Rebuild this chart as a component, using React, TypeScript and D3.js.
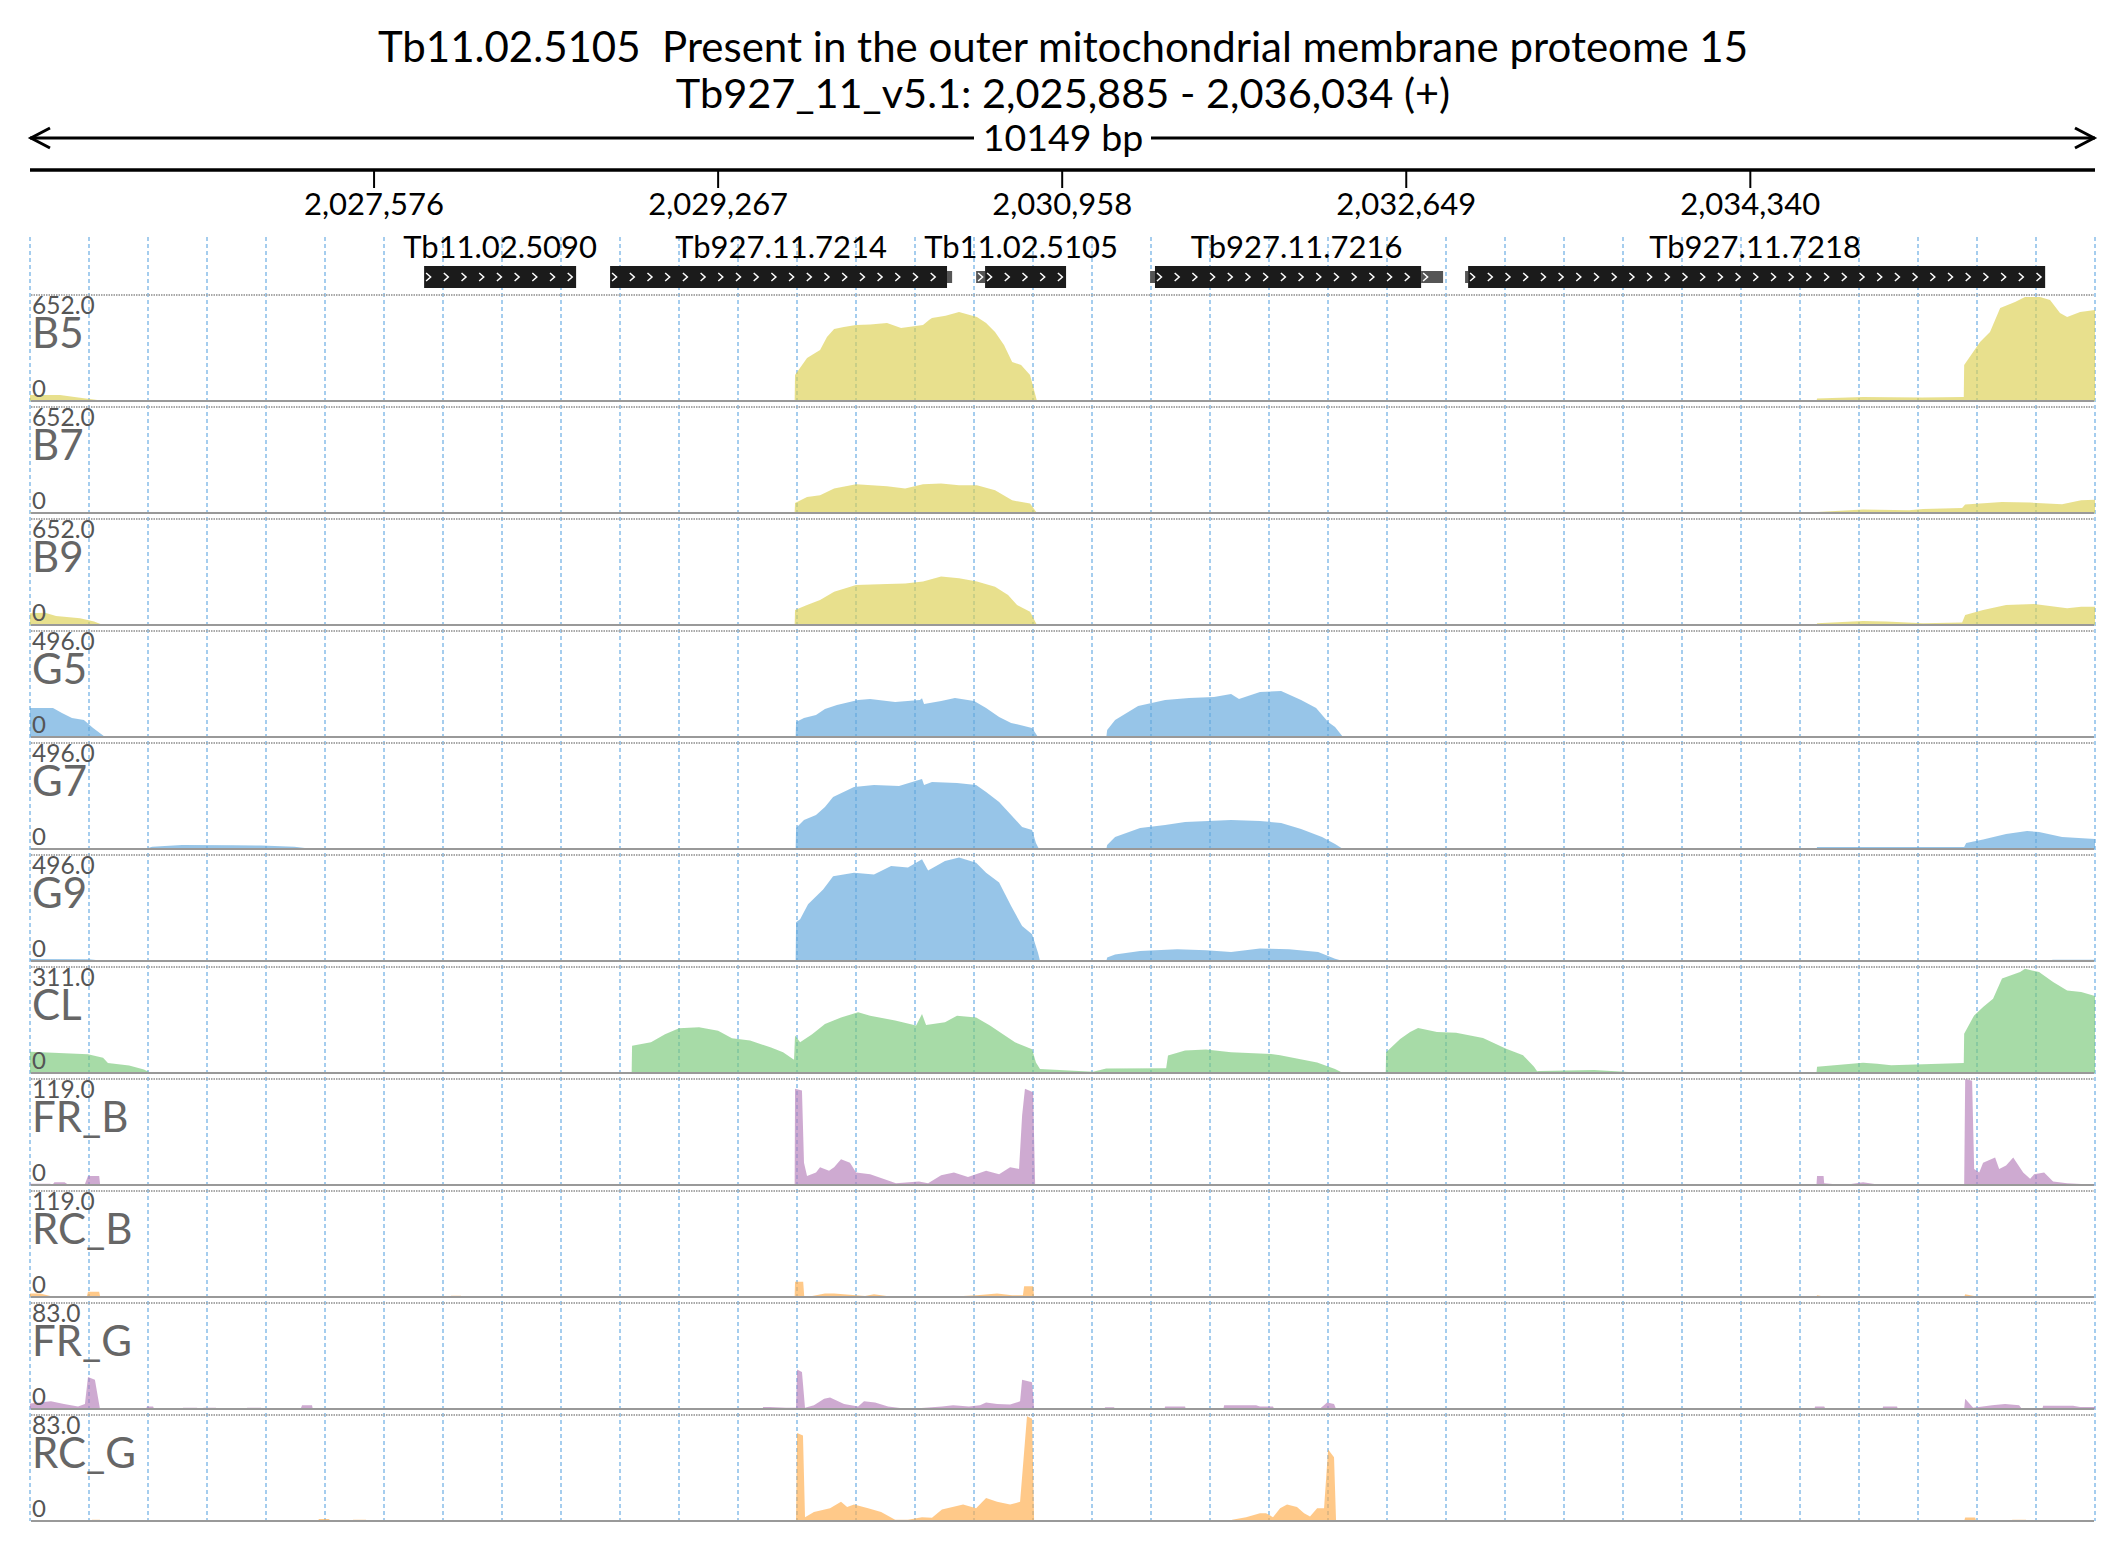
import { useMemo } from "react";
import * as d3 from "d3";

// region shown
const geneId = "Tb11.02.5105";
const geneDesc = "Present in the outer mitochondrial membrane proteome 15";
const chrom = "Tb927_11_v5.1";
const regionStart = 2025885;
const regionEnd = 2036034;
const strand = "+";

const axisTicks = [2027576, 2029267, 2030958, 2032649, 2034340];

// gene models (offsets from regionStart)
const geneNames = ["Tb11.02.5090", "Tb927.11.7214", "Tb11.02.5105", "Tb927.11.7216", "Tb927.11.7218"];
const geneCds: [number, number][] = [[1937, 2684], [2851, 4507], [4694, 5092], [5529, 6837], [7068, 9904]];
const geneUtrs: [number, number][][] = [[], [[4507, 4532]], [[4650, 4694]], [[5505, 5529], [6837, 6945]], [[7053, 7068]]];

const trackNames = ["B5", "B7", "B9", "G5", "G7", "G9", "CL", "FR_B", "RC_B", "FR_G", "RC_G"];
const trackMax = [652, 652, 652, 496, 496, 496, 311, 119, 119, 83, 83];
const trackGroup = ["B", "B", "B", "G", "G", "G", "C", "F", "R", "F", "R"];

// coverage, [offset bp, reads]
const covB5 = [[0, 37], [147, 37], [246, 20], [369, 0], [3758, 0], [3760, 160], [3819, 264], [3883, 314], [3917, 394], [3952, 443], [4000, 455], [4060, 467], [4130, 470], [4212, 480], [4281, 449], [4389, 467], [4420, 500], [4433, 510], [4500, 525], [4566, 548], [4654, 517], [4699, 480], [4743, 424], [4787, 344], [4827, 240], [4871, 221], [4915, 160], [4949, 0], [8780, 0], [8783, 15], [9009, 25], [9300, 22], [9504, 25], [9506, 221], [9584, 363], [9633, 424], [9683, 572], [9756, 609], [9805, 640], [9879, 640], [9928, 621], [9977, 541], [10012, 517], [10076, 548], [10149, 560]];
const covB7 = [[0, 6], [290, 6], [369, 0], [3758, 0], [3760, 62], [3819, 98], [3883, 109], [3952, 150], [4060, 177], [4212, 164], [4301, 150], [4389, 177], [4478, 181], [4566, 170], [4654, 170], [4743, 140], [4827, 78], [4915, 58], [4949, 0], [8780, 0], [8783, 6], [9009, 21], [9235, 17], [9304, 25], [9496, 31], [9511, 52], [9692, 68], [9830, 64], [9987, 54], [10081, 78], [10149, 82]];
const covB9 = [[0, 72], [74, 76], [128, 55], [246, 41], [315, 21], [359, 0], [3758, 0], [3760, 92], [3819, 123], [3883, 154], [3952, 205], [4060, 246], [4212, 252], [4301, 256], [4389, 267], [4478, 298], [4566, 287], [4654, 267], [4743, 236], [4807, 185], [4851, 123], [4915, 82], [4949, 0], [8780, 0], [8783, 10], [9009, 25], [9122, 21], [9304, 10], [9496, 15], [9511, 62], [9599, 92], [9712, 123], [9850, 129], [10012, 103], [10081, 113], [10149, 113]];
const covG5 = [[0, 136], [113, 136], [157, 112], [206, 89], [265, 80], [310, 42], [369, 0], [3763, 0], [3765, 70], [3804, 89], [3863, 103], [3907, 131], [3966, 150], [4070, 173], [4129, 178], [4252, 164], [4374, 173], [4384, 181], [4394, 154], [4478, 168], [4546, 182], [4640, 168], [4699, 136], [4763, 94], [4822, 66], [4925, 42], [4954, 0], [5290, 0], [5294, 33], [5333, 80], [5446, 145], [5579, 173], [5697, 182], [5819, 187], [5903, 201], [5942, 178], [6045, 211], [6149, 215], [6247, 173], [6321, 136], [6380, 70], [6414, 47], [6453, 0], [10149, 0]];
const covG7 = [[0, 5], [290, 4], [369, 0], [565, 0], [600, 10], [747, 19], [1000, 17], [1135, 16], [1300, 10], [1391, 0], [3763, 0], [3765, 98], [3804, 136], [3863, 159], [3907, 197], [3947, 243], [4050, 290], [4148, 300], [4271, 295], [4384, 328], [4394, 300], [4433, 313], [4556, 309], [4650, 300], [4699, 267], [4763, 220], [4822, 159], [4876, 103], [4925, 89], [4944, 28], [4959, 0], [5290, 0], [5294, 19], [5333, 56], [5456, 98], [5579, 112], [5677, 126], [5903, 136], [6045, 131], [6149, 122], [6247, 94], [6350, 56], [6414, 23], [6453, 0], [8780, 0], [8783, 9], [9506, 9], [9516, 28], [9599, 45], [9712, 70], [9815, 84], [9874, 80], [9987, 56], [10149, 47]];
const covG9 = [[0, 9], [290, 8], [369, 0], [3763, 0], [3765, 181], [3785, 195], [3824, 265], [3898, 335], [3947, 397], [4050, 413], [4148, 405], [4232, 445], [4315, 437], [4384, 476], [4414, 423], [4497, 468], [4566, 484], [4650, 460], [4699, 413], [4763, 367], [4822, 257], [4876, 164], [4925, 125], [4954, 39], [4964, 0], [5290, 0], [5294, 16], [5333, 31], [5456, 47], [5638, 55], [5780, 50], [5903, 42], [6045, 58], [6188, 55], [6331, 42], [6414, 11], [6453, 0], [9900, 0], [9943, 6], [10149, 6]];
const covCL = [[0, 62], [285, 55], [359, 45], [383, 29], [487, 22], [560, 10], [595, 0], [2250, 0], [2260, 3], [2900, 3], [2957, 0], [2959, 80], [3052, 90], [3121, 114], [3190, 131], [3288, 134], [3382, 124], [3450, 102], [3539, 95], [3642, 75], [3701, 61], [3755, 39], [3760, 110], [3785, 90], [3844, 114], [3907, 144], [3986, 163], [4070, 178], [4129, 168], [4252, 154], [4355, 139], [4384, 173], [4404, 141], [4497, 149], [4556, 168], [4650, 163], [4718, 139], [4782, 114], [4841, 90], [4925, 70], [4944, 31], [4964, 12], [5225, 4], [5289, 13], [5584, 14], [5593, 51], [5677, 66], [5780, 69], [5903, 61], [6100, 56], [6144, 52], [6326, 31], [6414, 12], [6453, 0], [6663, 0], [6665, 61], [6734, 100], [6783, 120], [6822, 132], [6915, 120], [7009, 118], [7141, 103], [7255, 71], [7338, 52], [7392, 18], [7407, 5], [7417, 6], [7687, 9], [7938, 0], [8780, 0], [8783, 18], [9009, 30], [9078, 27], [9147, 23], [9504, 29], [9506, 115], [9555, 169], [9599, 194], [9648, 218], [9692, 277], [9781, 296], [9805, 306], [9874, 296], [9943, 267], [10012, 242], [10081, 238], [10149, 226]];
const covFRB = [[0, 1.5], [100, 1.5], [110, 0], [120, 3], [170, 3], [190, 0], [270, 1], [285, 10], [340, 10], [345, 0], [3758, 0], [3760, 108], [3794, 106], [3804, 25], [3819, 10], [3863, 14], [3883, 20], [3927, 16], [3952, 20], [3986, 29], [4030, 25], [4060, 14], [4129, 12], [4193, 7], [4256, 2], [4369, 4], [4414, 2], [4478, 11], [4541, 14], [4610, 9], [4699, 16], [4763, 12], [4817, 20], [4861, 18], [4876, 78], [4890, 108], [4930, 104], [4940, 0], [8780, 0], [8783, 10], [8815, 10], [8818, 2], [8916, 0], [8950, 1], [9009, 3], [9098, 0], [9506, 0], [9511, 119], [9545, 117], [9555, 18], [9580, 14], [9599, 25], [9658, 31], [9678, 18], [9712, 22], [9747, 31], [9796, 14], [9830, 7], [9850, 12], [9899, 14], [9943, 4], [10012, 2], [10081, 1], [10149, 0.5]];
const covRCB = [[0, 4], [50, 4], [100, 1], [280, 1], [285, 6], [340, 6], [345, 0], [2065, 0], [2069, 1.5], [2118, 1.5], [2125, 0], [3758, 0], [3760, 17], [3800, 17], [3805, 1], [3844, 1], [3907, 4], [3952, 4], [4060, 2], [4104, 1], [4148, 3], [4227, 0.5], [4414, 1], [4541, 0.5], [4654, 2], [4753, 4], [4827, 2], [4880, 2], [4886, 12], [4930, 12], [4935, 0], [8780, 0], [8783, 2], [8827, 0], [9005, 0], [9009, 1], [9181, 1], [9190, 0], [9506, 0], [9511, 3], [9555, 1], [9668, 0], [9810, 0], [9815, 1], [9943, 1], [9950, 0]];
const covFRG = [[0, 4.4], [103, 6], [167, 4], [236, 2], [270, 4], [285, 25], [319, 23], [344, 0], [570, 0], [575, 2], [605, 2], [610, 0], [750, 0], [752, 1], [821, 1], [825, 0], [850, 0], [852, 1], [914, 1], [918, 0], [1065, 0], [1067, 1], [1135, 1], [1140, 0], [1330, 0], [1337, 3], [1386, 3], [1390, 0], [3600, 0], [3603, 1.6], [3637, 1.6], [3716, 1], [3765, 1], [3770, 31], [3794, 29], [3809, 1], [3853, 3], [3903, 8], [3932, 9], [4001, 4], [4070, 2], [4099, 6], [4153, 5], [4217, 2], [4315, 0], [4482, 2], [4537, 3], [4615, 2], [4669, 3], [4699, 5], [4753, 4], [4817, 3.5], [4866, 6], [4876, 23], [4925, 21], [4935, 0], [5280, 0], [5284, 1.3], [5328, 1.3], [5332, 0], [5575, 0], [5579, 2], [5677, 2], [5680, 0], [5865, 0], [5869, 3], [6026, 3], [6045, 2], [6109, 2], [6115, 0], [6340, 0], [6345, 1], [6375, 5], [6409, 4], [6419, 0], [8770, 0], [8773, 2], [8818, 2], [8825, 0], [9105, 0], [9107, 2], [9176, 2], [9180, 0], [9506, 0], [9511, 8], [9550, 1], [9643, 3], [9707, 4], [9776, 3], [9790, 0], [9890, 0], [9894, 2.5], [10041, 2.5], [10076, 1.5], [10149, 1.5]];
const covRCG = [[0, 0], [300, 0], [305, 1], [344, 1], [350, 0], [1415, 0], [1420, 1.5], [1470, 1.5], [1475, 0], [1585, 0], [1588, 1], [1651, 1], [1655, 0], [3765, 0], [3770, 69], [3799, 67], [3809, 3], [3853, 7], [3932, 10], [3986, 15], [4016, 11], [4050, 13], [4119, 10], [4183, 7], [4252, 1], [4315, 1], [4384, 3], [4433, 2.5], [4482, 9], [4586, 13], [4650, 10], [4699, 18], [4753, 15], [4817, 13], [4866, 15], [4900, 82], [4925, 80], [4935, 0], [5905, 0], [5908, 1], [5977, 3], [6045, 6], [6075, 6], [6109, 3], [6144, 10], [6178, 13], [6227, 11], [6262, 6], [6291, 3.5], [6326, 10], [6360, 10], [6380, 56], [6409, 50], [6419, 0], [9506, 0], [9511, 2.7], [9560, 2.7], [9565, 0], [9740, 0], [9742, 1], [9810, 1], [9815, 0], [10149, 0]];

const coverage = [covB5, covB7, covB9, covG5, covG7, covG9, covCL, covFRB, covRCB, covFRG, covRCG];

const groupFill: Record<string, string> = {
  B: "#dcd050",
  G: "#5fa6dc",
  C: "#78c878",
  F: "#b47cb8",
  R: "#ffac4a",
};

const W = 2126;
const H = 1561;
const FONT = "Lato, 'Noto Sans', sans-serif";

export default function App() {
  const x = useMemo(
    () => d3.scaleLinear().domain([regionStart, regionEnd]).range([30, 2095]),
    []
  );

  const trackTop0 = 295;
  const trackPitch = 112;
  const trackH = 106;
  const gridTop = 237;
  const gridBottom = trackTop0 + (trackNames.length - 1) * trackPitch + trackH;

  const gridPos = d3.range(0, 36).map((k) => regionStart + (k * (regionEnd - regionStart)) / 35);
  const fmt = d3.format(",");
  const mid = (x.range()[0] + x.range()[1]) / 2 + 0.5;

  const tracks = trackNames.map((name, i) => {
    const top = trackTop0 + i * trackPitch;
    const y = d3.scaleLinear().domain([0, trackMax[i]]).range([top + trackH, top]);
    const area = d3
      .area<number[]>()
      .x((d) => x(regionStart + d[0]))
      .y0(top + trackH)
      .y1((d) => y(d[1]));
    return { name, top, y, path: area(coverage[i] as number[][]) || "" };
  });

  const boxTop = 266;
  const boxH = 22;
  const boxMid = boxTop + boxH / 2;

  const chevrons = (a: number, b: number) => {
    const x0 = x(regionStart + a);
    const x1 = x(regionStart + b);
    return d3.range(x0 + 5, x1 - 3, 17.7);
  };

  return (
    <div style={{ position: "absolute", left: 0, top: 0, width: W, height: H, background: "#fff" }}>
      <svg width={W} height={H} style={{ display: "block", fontFamily: FONT }}>
        <rect width={W} height={H} fill="#fff" />
        {/* title */}
        <text x={W / 2} y={62} textAnchor="middle" fontSize={42} fill="#000" style={{ whiteSpace: "pre" }}>
          {`${geneId}  ${geneDesc}`}
        </text>
        <text x={W / 2} y={108} textAnchor="middle" fontSize={41.5} fill="#000">
          {`${chrom}: ${fmt(regionStart)} - ${fmt(regionEnd)} (${strand})`}
        </text>

        {/* span arrow */}
        <line x1={x.range()[0]} x2={mid - 89} y1={138} y2={138} stroke="#000" strokeWidth={3} />
        <line x1={mid + 88} x2={x.range()[1]} y1={138} y2={138} stroke="#000" strokeWidth={3} />
        <path d={`M${x.range()[0] + 20},128 L${x.range()[0] + 1},138 L${x.range()[0] + 20},148`} fill="none" stroke="#000" strokeWidth={3} />
        <path d={`M${x.range()[1] - 20},128 L${x.range()[1] - 1},138 L${x.range()[1] - 20},148`} fill="none" stroke="#000" strokeWidth={3} />
        <text x={mid} y={151} textAnchor="middle" fontSize={37.5} fill="#000">
          {`${regionEnd - regionStart} bp`}
        </text>

        {/* axis */}
        <line x1={x.range()[0]} x2={x.range()[1]} y1={170} y2={170} stroke="#000" strokeWidth={3.5} />
        {axisTicks.map((t) => (
          <g key={t}>
            <line x1={x(t)} x2={x(t)} y1={170} y2={188} stroke="#000" strokeWidth={2} />
            <text x={x(t)} y={215} textAnchor="middle" fontSize={31} fill="#000">
              {fmt(t)}
            </text>
          </g>
        ))}

        {/* grid */}
        {gridPos.map((p, k) => (
          <line
            key={k}
            x1={x(p)}
            x2={x(p)}
            y1={gridTop}
            y2={gridBottom}
            stroke="#8fc1ea"
            strokeWidth={1.6}
            strokeDasharray="4,3"
          />
        ))}

        {/* genes */}
        {geneNames.map((g, i) => {
          const [cs, ce] = geneCds[i];
          const utrs = geneUtrs[i];
          const all = [cs, ce, ...utrs.flat()];
          const lo = d3.min(all)!;
          const hi = d3.max(all)!;
          const cx = (x(regionStart + lo) + x(regionStart + hi)) / 2;
          return (
            <g key={g}>
              {utrs.map(([a, b], k) => (
                <g key={k}>
                  <rect
                    x={x(regionStart + a)}
                    width={x(regionStart + b) - x(regionStart + a)}
                    y={boxMid - 6}
                    height={12}
                    fill="#555"
                  />
                  {chevrons(a, b).map((cxp, j) => (
                    <path key={j} d={`M${cxp - 3},${boxMid - 4} L${cxp + 1.5},${boxMid} L${cxp - 3},${boxMid + 4}`} fill="none" stroke="#fff" strokeWidth={1.5} />
                  ))}
                </g>
              ))}
              <rect
                x={x(regionStart + cs)}
                width={x(regionStart + ce) - x(regionStart + cs)}
                y={boxTop}
                height={boxH}
                fill="#1b1b1b"
              />
              {chevrons(cs, ce).map((cxp, j) => (
                <path key={j} d={`M${cxp - 3},${boxMid - 4} L${cxp + 1.5},${boxMid} L${cxp - 3},${boxMid + 4}`} fill="none" stroke="#fff" strokeWidth={1.5} />
              ))}
              <text x={cx} y={258} textAnchor="middle" fontSize={31} fill="#000">
                {g}
              </text>
            </g>
          );
        })}

        {/* tracks */}
        {tracks.map((t, i) => (
          <g key={t.name}>
            <line x1={x.range()[0] + 1} x2={x.range()[1] - 1} y1={t.top} y2={t.top} stroke="#a8a8a8" strokeWidth={2} strokeDasharray="1.5,1" />
            <path d={t.path} fill={groupFill[trackGroup[i]]} fillOpacity={0.65} />
            <line x1={x.range()[0] + 1} x2={x.range()[1] - 1} y1={t.top + trackH} y2={t.top + trackH} stroke="#999" strokeWidth={2} />
            <text x={32} y={t.top + 19} fontSize={24.5} fill="#555">
              {trackMax[i].toFixed(1)}
            </text>
            <text x={32} y={t.top + 53} fontSize={42} fill="#666">
              {t.name}
            </text>
            <text x={32} y={t.top + 102} fontSize={24} fill="#555">
              0
            </text>
          </g>
        ))}
      </svg>
    </div>
  );
}
